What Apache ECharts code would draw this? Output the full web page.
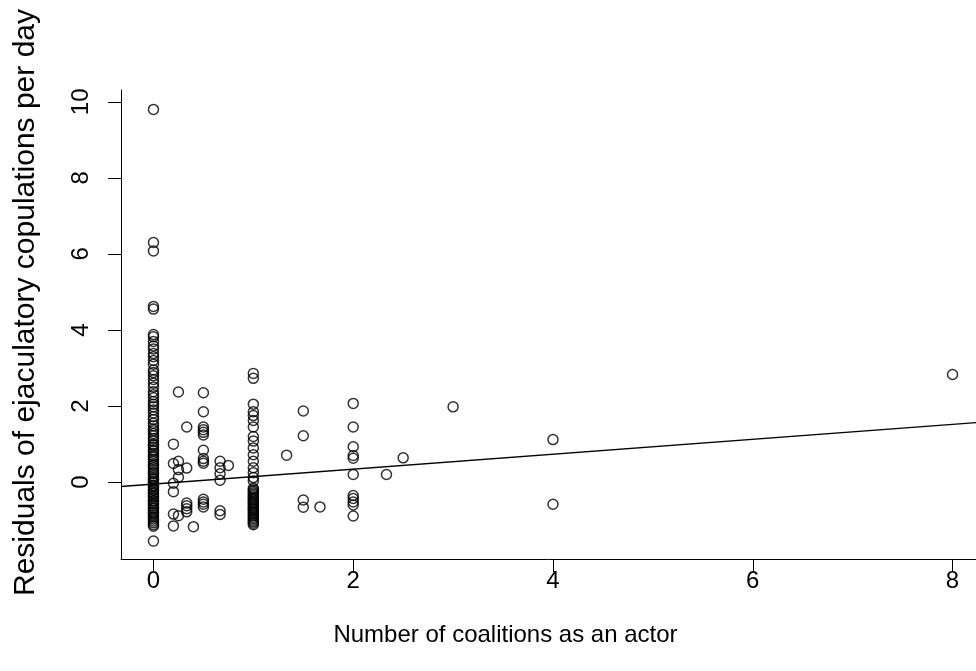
<!DOCTYPE html>
<html>
<head>
<meta charset="utf-8">
<title>Residuals vs coalitions</title>
<script src="https://cdn.jsdelivr.net/npm/echarts@6/dist/echarts.min.js"></script>
<style>
  html, body { margin: 0; padding: 0; background: #ffffff; }
  #chart { width: 976px; height: 671px; }
</style>
</head>
<body>
<div id="chart"></div>
<script>
// Residual ejaculatory copulations per day, grouped by number of coalitions as an actor
const coalitionCounts = [0, 0.2, 0.25, 0.333, 0.4, 0.5, 0.667, 0.75, 1, 1.333, 1.5, 1.667, 2, 2.333, 2.5, 3, 4, 8];

const residualsAt0 = [9.8, 6.3, 6.08, 4.62, 4.55, 3.88, 3.82, 3.7, 3.58, 3.5, 3.38, 3.3, 3.2, 3.1,
  2.95, 2.88, 2.8, 2.7, 2.6, 2.5, 2.38, 2.3, 2.22, 2.12, 2.05, 1.98, 1.9, 1.82, 1.72, 1.65,
  1.55, 1.48, 1.4, 1.35, 1.28, 1.22, 1.15, 1.08, 1.0, 0.97, 0.92, 0.85, 0.82, 0.76, 0.7, 0.66,
  0.6, 0.55, 0.48, 0.44, 0.38, 0.32, 0.26, 0.22, 0.16, 0.1, 0.07, 0.02, -0.02, -0.08, -0.1,
  -0.15, -0.2, -0.22, -0.28, -0.3, -0.35, -0.38, -0.42, -0.48, -0.5, -0.56, -0.58, -0.63,
  -0.68, -0.7, -0.75, -0.8, -0.82, -0.87, -0.92, -0.97, -1.02, -1.07, -1.12, -1.16, -1.55];
const residualsAt0_2 = [1.0, 0.49, -0.03, -0.25, -0.84, -1.15];
const residualsAt0_25 = [2.37, 0.55, 0.33, 0.13, -0.88];
const residualsAt0_333 = [1.45, 0.37, -0.55, -0.62, -0.7, -0.78];
const residualsAt0_4 = [-1.17];
const residualsAt0_5 = [2.35, 1.85, 1.45, 1.38, 1.31, 1.24, 0.84, 0.62, 0.55, 0.5, -0.45, -0.52, -0.58, -0.65];
const residualsAt0_667 = [0.55, 0.38, 0.22, 0.05, -0.75, -0.85];
const residualsAt0_75 = [0.44];
const residualsAt1 = [2.86, 2.73, 2.05, 1.85, 1.75, 1.62, 1.45, 1.2, 1.08, 0.9, 0.72, 0.55, 0.38,
  0.25, 0.12, 0.03, -0.16, -0.2, -0.24, -0.28, -0.31, -0.35, -0.39, -0.42, -0.46, -0.5, -0.54,
  -0.57, -0.61, -0.65, -0.69, -0.72, -0.76, -0.8, -0.84, -0.88, -0.92, -0.96, -1.0, -1.04,
  -1.08, -1.12];
const residualsAt1_333 = [0.71];
const residualsAt1_5 = [1.87, 1.22, -0.47, -0.66];
const residualsAt1_667 = [-0.65];
const residualsAt2 = [2.07, 1.45, 0.93, 0.7, 0.63, 0.2, -0.35, -0.43, -0.52, -0.6, -0.89];
const residualsAt2_333 = [0.2];
const residualsAt2_5 = [0.64];
const residualsAt3 = [1.98];
const residualsAt4 = [1.12, -0.58];
const residualsAt8 = [2.83];

const residualGroups = [residualsAt0, residualsAt0_2, residualsAt0_25, residualsAt0_333, residualsAt0_4,
  residualsAt0_5, residualsAt0_667, residualsAt0_75, residualsAt1, residualsAt1_333, residualsAt1_5,
  residualsAt1_667, residualsAt2, residualsAt2_333, residualsAt2_5, residualsAt3, residualsAt4, residualsAt8];

// Fitted least-squares line
const fitIntercept = -0.05;
const fitSlope = 0.196;

const xTicks = [0, 2, 4, 6, 8];
const yTicks = [0, 2, 4, 6, 8, 10];

const xMin = -0.325, xMax = 8.235;
const yMin = -2.02, yMax = 10.31;

const points = [];
coalitionCounts.forEach((c, i) => {
  residualGroups[i].forEach(r => points.push([c, r]));
});
const fitLine = [xMin, xMax].map(x => [x, fitIntercept + fitSlope * x]);

const FONT = '"Liberation Sans", Arial, Helvetica, sans-serif';

const chart = echarts.init(document.getElementById('chart'), null, { renderer: 'canvas' });
chart.setOption({
  animation: false,
  backgroundColor: '#ffffff',
  grid: { left: 121, right: 0, top: 90, bottom: 112, containLabel: false },
  xAxis: {
    type: 'value',
    min: xMin, max: xMax,
    name: 'Number of coalitions as an actor',
    nameLocation: 'middle',
    nameGap: 64,
    nameTextStyle: { fontFamily: FONT, fontSize: 24, color: '#000', padding: [0, 86, 0, 0] },
    axisLine: { show: true, onZero: false, lineStyle: { color: '#000', width: 1 } },
    axisTick: { show: true, length: 13, inside: false, customValues: xTicks, lineStyle: { color: '#000', width: 1 } },
    axisLabel: { show: true, customValues: xTicks, margin: 10, fontFamily: FONT, fontSize: 24, color: '#000' },
    splitLine: { show: false }
  },
  yAxis: {
    type: 'value',
    min: yMin, max: yMax,
    name: 'Residuals of ejaculatory copulations per day',
    nameLocation: 'middle',
    nameGap: 80,
    nameRotate: 90,
    nameTextStyle: { fontFamily: FONT, fontSize: 30, color: '#000', padding: [0, 0, 0, 44] },
    axisLine: { show: true, onZero: false, lineStyle: { color: '#000', width: 1 } },
    axisTick: { show: true, length: 13, inside: false, customValues: yTicks, lineStyle: { color: '#000', width: 1 } },
    axisLabel: { show: true, customValues: yTicks, rotate: 90, margin: 28, fontFamily: FONT, fontSize: 24, color: '#000' },
    splitLine: { show: false }
  },
  series: [
    {
      type: 'scatter',
      data: points,
      symbol: 'circle',
      symbolSize: 10,
      itemStyle: { color: 'rgba(0,0,0,0)', borderColor: '#000', borderWidth: 1.5 },
      emphasis: { disabled: true },
      z: 3
    },
    {
      type: 'line',
      data: fitLine,
      symbol: 'none',
      lineStyle: { color: '#000', width: 1.3 },
      emphasis: { disabled: true },
      z: 2
    }
  ]
});
</script>
</body>
</html>
